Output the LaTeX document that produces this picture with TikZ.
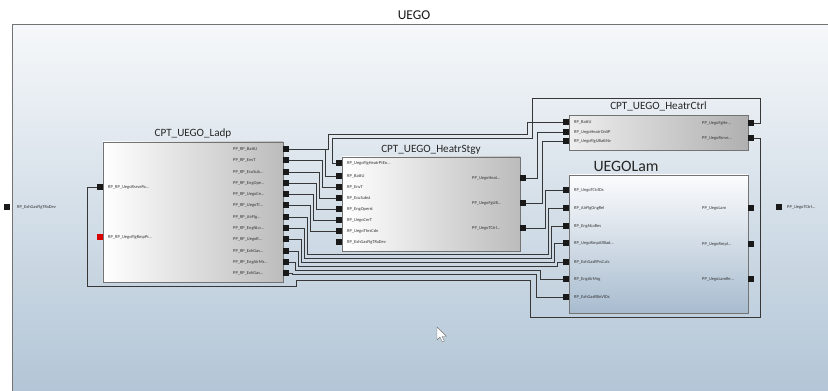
\documentclass[tikz,border=0pt]{standalone}
\usepackage{fontspec}
\setmainfont{Carlito}
\newcommand{\trl}{...}
\definecolor{bgtop}{RGB}{246,248,250}
\definecolor{bgbot}{RGB}{178,197,214}
\definecolor{lamtop}{RGB}{252,252,253}
\definecolor{lambot}{RGB}{168,188,207}
\definecolor{boxr}{RGB}{188,188,188}
\definecolor{ctrll}{RGB}{238,238,238}
\definecolor{ctrlr}{RGB}{176,176,176}
\definecolor{wire}{RGB}{55,55,55}
\definecolor{framec}{RGB}{115,115,115}
\begin{document}
\begin{tikzpicture}[x=0.03cm,y=-0.03cm,
  w/.style={draw=wire, line width=0.55pt},
  port/.style={fill=black!90, inner sep=0pt, minimum width=4.8pt, minimum height=4.3pt},
  lbl/.style={font=\fontsize{3.8}{4.2}\selectfont, text=black!80, inner sep=0pt, anchor=west},
  ttl/.style={font=\fontsize{9.5}{11}\selectfont, text=black!85, inner sep=0pt},
  cbox/.style={draw=framec, line width=0.8pt, inner sep=0pt},
]
\clip (0,0) rectangle (828,391);
\fill[white] (0,0) rectangle (828,391);
\shade[top color=bgtop, bottom color=bgbot] (12,24) rectangle (832,395);
\draw[framec, line width=0.7pt] (12,395) -- (12,24) -- (832,24);
\node[font=\fontsize{11.5}{13}\selectfont, text=black!90] (title) at (414,15) {UEGO};

% boxes
\node[cbox, left color=white, right color=boxr, minimum width=5.4cm, minimum height=4.2cm] (ladp) at (193,212) {};
\node[ttl] (tladp) at (193,134) {CPT\_UEGO\_Ladp};
\node[cbox, left color=white, right color=boxr, minimum width=5.34cm, minimum height=2.82cm] (stgy) at (431,204) {};
\node[ttl] (tstgy) at (431,150) {CPT\_UEGO\_HeatrStgy};
\node[cbox, left color=ctrll, right color=ctrlr, minimum width=5.37cm, minimum height=1.05cm] (ctrl) at (658.5,132.5) {};
\node[ttl] (tctrl) at (658.5,106) {CPT\_UEGO\_HeatrCtrl};
\node[cbox, top color=lamtop, bottom color=lambot, minimum width=5.37cm, minimum height=4.14cm] (lam) at (658.5,244) {};
\node[font=\fontsize{13.5}{15}\selectfont, text=black!85, inner sep=0pt] (tlam) at (626,166) {UEGOLam};

% ports
\node[port] (ein) at (7,207) {};
\node[lbl] (lein) at (17,207) {RP\_ExhGasFlgTRxDev};
\node[port] (eout) at (779,207) {};
\node[lbl] (leout) at (787,207) {PP\_UegoTCtrl\trl};

\node[port] (li1) at (100,187) {};
\node[lbl] (lli1) at (108,187) {RP\_RP\_UegoRsrvePa\trl};
\node[port, fill=red!85!black] (li2) at (100,237) {};
\node[lbl] (lli2) at (108,237) {RP\_RP\_UegoFlgRmpPr\trl};

\foreach \yy/\tt [count=\i] in {149/PP\_RP\_BattU,160/PP\_RP\_EnvT,172/PP\_RP\_EcuSub\trl,183/PP\_RP\_EngOpe\trl,194/PP\_RP\_UegoCe\trl,205/PP\_RP\_UegoTl\trl,217/PP\_RP\_AirFlg\trl,228/PP\_RP\_EngNLo\trl,239/PP\_RP\_UegoR\trl,251/PP\_RP\_ExhGas\trl,262/PP\_RP\_EngAirMs\trl,273/PP\_RP\_ExhGas\trl}{
  \node[port] (lo\i) at (286,\yy) {};
  \node[lbl] (llo\i) at (233,\yy) {\tt};
}
\foreach \yy/\tt [count=\i] in {163/RP\_UegoFlgHeatrPtEn\trl,176/RP\_BattU,187/RP\_EnvT,198/RP\_EcuSubst,209/RP\_EngOperst,220/RP\_UegoCerT,231/RP\_UegoThrsCdn,242/RP\_ExhGasFlgTRxDev}{
  \node[port] (si\i) at (339,\yy) {};
  \node[lbl] (lsi\i) at (347,\yy) {\tt};
}
\foreach \yy/\tt [count=\i] in {178/PP\_UegoHeat\trl,203/PP\_UegoFgUB\trl,228/PP\_UegoTCtrl\trl}{
  \node[port] (so\i) at (523,\yy) {};
  \node[lbl] (lso\i) at (472,\yy) {\tt};
}
\foreach \yy/\tt [count=\i] in {122/RP\_BattU,132/RP\_UegoHeatrOnSP,141/RP\_UegoFlgUBattNv}{
  \node[port] (ci\i) at (566,\yy) {};
  \node[lbl] (lci\i) at (574,\yy) {\tt};
}
\foreach \yy/\tt [count=\i] in {123/PP\_UegoFgHe\trl,138/PP\_UegoRsrve\trl}{
  \node[port] (co\i) at (751,\yy) {};
  \node[lbl] (lco\i) at (702,\yy) {\tt};
}
\foreach \yy/\tt [count=\i] in {190/RP\_UegoTCtrlDs,208/RP\_AirFlgOngRel,226/RP\_EngNLoRes,243/RP\_UegoRmpAllBad\trl,262/RP\_ExhGasRPrsCalc,279/RP\_EngAirMsg,297/RP\_ExhGasRBnVlDs}{
  \node[port] (mi\i) at (566,\yy) {};
  \node[lbl] (lmi\i) at (574,\yy) {\tt};
}
\foreach \yy/\tt [count=\i] in {208/PP\_UegoLam,244/PP\_UegoRmpl\trl,279/PP\_UegoLamRe\trl}{
  \node[port] (mo\i) at (751,\yy) {};
  \node[lbl] (lmo\i) at (702,\yy) {\tt};
}

% wires, node to node
\draw[w] (lo1.east) -- (328,149) -- (328,134) -- (527,134) -- (527,122) -- (ci1.west);
\draw[w] (lo1.east) -- (325,149) -- (325,176) -- (si2.west);
\draw[w] (lo2.east) -- (322,160) -- (322,187) -- (si3.west);
\draw[w] (lo3.east) -- (319,172) -- (319,198) -- (si4.west);
\draw[w] (lo4.east) -- (316,183) -- (316,209) -- (si5.west);
\draw[w] (lo5.east) -- (313,194) -- (313,220) -- (si6.west);
\draw[w] (lo6.east) -- (310,205) -- (310,231) -- (si7.west);
\draw[w] (lo7.east) -- (307,217) -- (307,254) -- (548,254) -- (548,208) -- (mi2.west);
\draw[w] (lo8.east) -- (304,228) -- (304,258) -- (551,258) -- (551,226) -- (mi3.west);
\draw[w] (lo9.east) -- (301,239) -- (301,262) -- (554,262) -- (554,243) -- (mi4.west);
\draw[w] (lo10.east) -- (298,251) -- (298,266) -- (557,266) -- (557,262) -- (mi5.west);
\draw[w] (lo11.east) -- (295,262) -- (295,270) -- (540,270) -- (540,279) -- (mi6.west);
\draw[w] (lo12.east) -- (292,273) -- (292,274) -- (536,274) -- (536,297) -- (mi7.west);
\draw[w] (so1.east) -- (537,178) -- (537,132) -- (ci2.west);
\draw[w] (so2.east) -- (542,203) -- (542,141) -- (ci3.west);
\draw[w] (so3.east) -- (545,228) -- (545,190) -- (mi1.west);
\draw[w] (co1.east) -- (760,123) -- (760,98) -- (532,98) -- (532,138) -- (332,138) -- (332,163) -- (si1.west);
\draw[w] (co2.east) -- (760,138) -- (760,317) -- (530,317) -- (530,280) -- (296,280) -- (296,286) -- (87,286) -- (87,187) -- (li1.west);

% mouse cursor
\draw[fill=white, draw=black!55, line width=0.35pt, line join=round] (437,327) -- ++(0,13) -- ++(3,-3) -- ++(2.5,5) -- ++(2,-1) -- ++(-2.5,-4.5) -- ++(4.5,0) -- cycle;
\end{tikzpicture}
\end{document}
